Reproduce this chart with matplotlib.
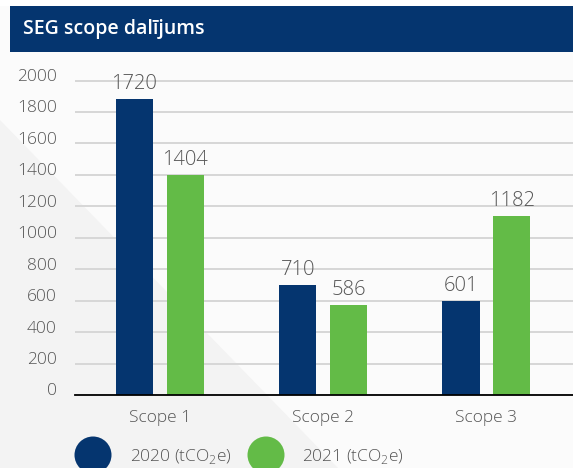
"""SEG scope breakdown bar chart (2020 vs 2021)."""

import matplotlib

matplotlib.use("Agg")
import matplotlib.pyplot as plt
import matplotlib.transforms as mtransforms
import numpy as np
from matplotlib.patches import Ellipse, Polygon, Rectangle

# data
categories = ["Scope 1", "Scope 2", "Scope 3"]
heights_2020 = [1885, 700, 598]
heights_2021 = [1400, 572, 1140]
labels_2020 = ["1720", "710", "601"]
labels_2021 = ["1404", "586", "1182"]
legend_labels = ["2020 (tCO$_\\mathregular{2}$e)", "2021 (tCO$_\\mathregular{2}$e)"]
yticks = [0, 200, 400, 600, 800, 1000, 1200, 1400, 1600, 1800, 2000]

NAVY = "#05356f"
GREEN = "#63bb47"
TEXT = "#555555"
GRID = "#d4d4d4"

W, H = 573, 468

plt.rcParams.update(
    {
        "font.family": ["Open Sans", "DejaVu Sans"],
        "font.weight": "light",
        "mathtext.fontset": "custom",
        "mathtext.rm": "Open Sans:light",
    }
)


def fx(px):
    return px / W


def fy(py):
    return 1 - py / H


fig = plt.figure(figsize=(W / 100, H / 100), dpi=100)
fig.patch.set_facecolor("white")

# page background with the pale diagonal shape
fig.add_artist(Rectangle((0, 0), 1, fy(6), transform=fig.transFigure,
                         facecolor="#fbfbfb", edgecolor="none", zorder=0))
fig.add_artist(Polygon([(0, fy(120)), (fx(338), fy(468)), (0, fy(468))],
                       closed=True, transform=fig.transFigure,
                       facecolor="#f3f3f3", edgecolor="none", zorder=0))

# header band
fig.add_artist(Rectangle((fx(10), fy(52)), 1 - fx(10), fy(6) - fy(52),
                         transform=fig.transFigure, facecolor=NAVY,
                         edgecolor="none", zorder=1))
fig.text(fx(23), fy(29), "SEG scope dalījums", color="white", fontsize=14,
         fontweight="semibold", va="center", ha="left", zorder=2)

# axes: 0 at y=395 px, 2000 at y=80.5 px
scale = (395 - 80.5) / 2000
ymax = 2010
ax_top = 395 - ymax * scale
ax = fig.add_axes([fx(75), fy(395), 1 - fx(75), (395 - ax_top) / H])
ax.set_facecolor("none")

x = np.arange(len(categories))
width = 0.227
offset = 0.156
ax.bar(x - offset, heights_2020, width=width, color=NAVY, zorder=3)
ax.bar(x + offset, heights_2021, width=width, color=GREEN, zorder=3)

for xi, h, lab in zip(x - offset, heights_2020, labels_2020):
    ax.annotate(lab, (xi, h), xytext=(0, 7), textcoords="offset points",
                ha="center", va="baseline", fontsize=14.5, color=TEXT, zorder=4)
for xi, h, lab in zip(x + offset, heights_2021, labels_2021):
    ax.annotate(lab, (xi, h), xytext=(0, 7), textcoords="offset points",
                ha="center", va="baseline", fontsize=14.5, color=TEXT, zorder=4)

ax.set_xlim(-0.52, 2.53)
ax.set_ylim(0, ymax)
ax.set_yticks(yticks)
ax.set_yticklabels([str(t) for t in yticks])
ax.set_xticks(x)
ax.set_xticklabels(categories)
ax.tick_params(axis="y", length=0, pad=13, labelsize=12.5, labelcolor=TEXT)
ax.tick_params(axis="x", length=0, pad=11, labelsize=12.5, labelcolor=TEXT)

# y labels sit a little above their gridlines
shift = mtransforms.ScaledTranslation(0, 4 / 72, fig.dpi_scale_trans)
for lab in ax.get_yticklabels():
    lab.set_transform(lab.get_transform() + shift)

ax.grid(axis="y", color=GRID, linewidth=1.3, zorder=1)
ax.grid(axis="x", visible=False)
ax.set_axisbelow(True)
for side in ["top", "right", "left"]:
    ax.spines[side].set_visible(False)
ax.spines["bottom"].set_color("black")
ax.spines["bottom"].set_linewidth(1.3)
ax.spines["bottom"].set_zorder(5)

# legend: large dots at the bottom edge
for cx, tx, color, lab in zip([93, 266], [130, 302], [NAVY, GREEN], legend_labels):
    fig.add_artist(Ellipse((fx(cx), fy(455)), fx(37), 37 / H,
                           transform=fig.transFigure, facecolor=color,
                           edgecolor="none", zorder=2))
    fig.text(fx(tx), fy(457), lab, fontsize=12.5, color=TEXT,
             va="center", ha="left")

fig.savefig("out.png", dpi=100)
